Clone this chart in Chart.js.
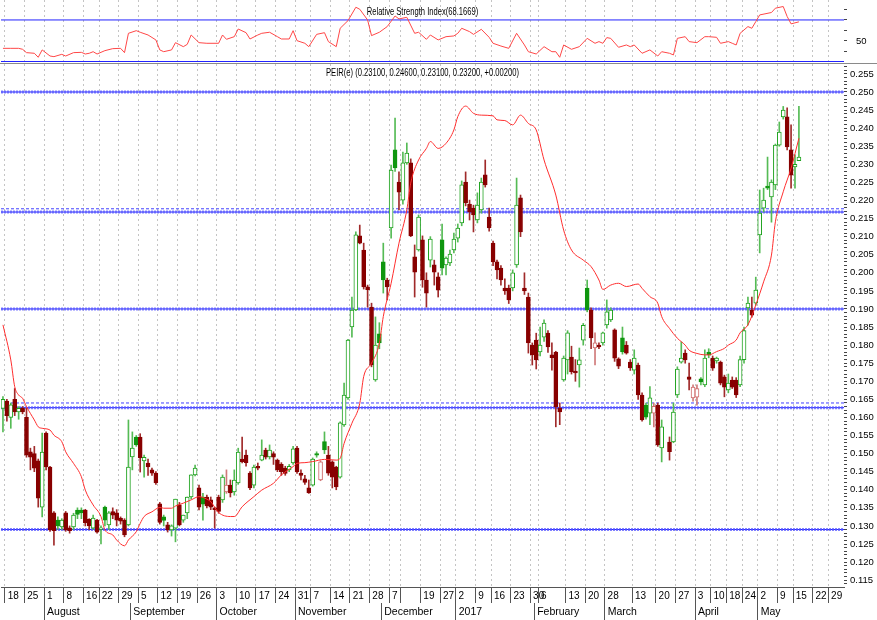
<!DOCTYPE html>
<html>
<head>
<meta charset="utf-8">
<script src="https://cdn.jsdelivr.net/npm/chart.js@4.4.1/dist/chart.umd.min.js"></script>
<style>
  html, body { margin: 0; padding: 0; background: #fff; }
  #wrap { position: relative; width: 877px; height: 620px; overflow: hidden; }
  #rsiBox { position: absolute; left: 0; top: 0; width: 877px; height: 63px; }
  #mainBox { position: absolute; left: 0; top: 63px; width: 877px; height: 556px; border-top: 1px solid #8a8a8a; }
</style>
</head>
<body>
<div id="wrap">
  <div id="rsiBox"><canvas id="rsiChart"></canvas></div>
  <div id="mainBox"><canvas id="priceChart"></canvas></div>
</div>
<script>
// bars per week, first label of each week (one bar slot per trading day)
const weekLabels = ["", "18", "25", "1", "8", "16", "22", "29", "5", "12", "19", "26", "3", "10", "17", "24",
  "31", "7", "14", "21", "28", "7", "", "19", "27", "2", "9", "16", "23", "30", "6", "13", "20", "28",
  "13", "20", "27", "3", "10", "18", "24", "2", "9", "15", "22", "29"];
const weekBars = [1, 5, 5, 5, 5, 4, 5, 5, 5, 5, 5, 5, 5, 5, 5, 5,
  4, 5, 5, 5, 5, 3, 5, 5, 4, 5, 4, 5, 5, 2, 7, 5, 5, 7,
  6, 5, 5, 4, 4, 4, 4, 5, 4, 5, 4, 4];
const monthLabels = ["", "August", "September", "October", "November", "December", "2017", "February", "March", "April", "May"];
const monthBars = [11, 22, 22, 20, 22, 19, 20, 18, 23, 16, 22];

// daily candles (null = no trade that slot)
const open = [
  .1625,.1645,.1600,.1650,.1615,.1625,.1600,.1505,.1500,.1480,
  .1352,.1557,.1463,.1336,.1316,.1297,.1336,.1295,.1297,.1344,
  .1344,.1344,.1318,.1294,.1316,.1290,.1352,.1303,.1340,.1336,
  .1322,.1316,.1303,.1491,.1546,.1546,.1480,.1474,.1455,.1446,
  .1361,.1325,.1303,.1289,.1294,.1358,.1316,.1336,.1380,.1441,
  .1405,.1380,.1380,.1372,.1350,.1380,.1372,.1394,.1413,.1394,
  .1419,.1485,.1496,.1446,.1413,.1465,.1482,.1510,.1491,.1500,
  .1482,.1470,.1460,.1455,.1474,.1515,.1446,.1430,.1405,.1413,
  .1500,.1427,.1533,.1496,.1477,.1463,.1435,.1579,.1654,.1850,
  .1897,.2102,.2063,.1961,.1905,.1704,.1831,.2030,.1980,.2124,
  .2340,.2251,.2201,.2304,.2304,.2044,.2063,.2091,.1980,.2035,
  .2022,.1989,.2091,.2022,.2027,.2063,.2096,.2138,.2251,.2190,
  .2179,.2146,.2174,.2271,.2154,.2082,.2030,.2013,.1958,.1958,
  .1958,.2022,.2207,.1958,.1933,.1800,.1814,.1781,.1822,.1833,
  .1773,.1781,.1626,.1704,.1759,.1767,.1728,.1745,.1814,.1958,
  .1897,.1792,.1800,.1806,.1856,.1870,.1842,.1762,.1820,.1800,
  .1753,.1731,.1745,.1662,.1634,.1612,.1612,.1634,.1516,null,
  .1532,.1532,.1662,.1753,.1778,.1712,.1654,.1656,.1707,.1690,
  .1781,.1764,.1756,.1753,.1712,.1676,.1703,.1703,.1690,.1760,
  .1903,.1897,.1916,.2105,.2179,.2240,.2210,.2243,.2353,.2431,
  .2431,.2340,.2293,.2310
];
const high = [
  .1658,.1650,.1640,.1680,.1630,.1630,.1625,.1515,.1520,.1485,
  .1557,.1560,.1465,.1340,.1325,.1320,.1340,.1300,.1335,.1350,
  .1350,.1346,.1320,.1330,.1318,.1300,.1355,.1340,.1350,.1345,
  .1325,.1320,.1593,.1560,.1550,.1555,.1496,.1485,.1460,.1450,
  .1365,.1330,.1310,.1303,.1374,.1365,.1330,.1380,.1441,.1468,
  .1413,.1390,.1385,.1380,.1352,.1385,.1441,.1455,.1427,.1455,
  .1515,.1546,.1510,.1450,.1468,.1474,.1538,.1515,.1524,.1505,
  .1485,.1475,.1465,.1470,.1520,.1520,.1455,.1440,.1427,.1488,
  .1505,.1480,.1560,.1520,.1480,.1465,.1588,.1695,.1816,.1933,
  .2113,.2132,.2082,.1966,.1916,.1878,.1862,.2082,.1985,.2298,
  .2428,.2279,.2334,.2359,.2315,.2077,.2160,.2102,.2000,.2100,
  .2035,.2000,.2135,.2044,.2063,.2110,.2135,.2254,.2279,.2201,
  .2187,.2221,.2262,.2312,.2179,.2088,.2035,.2020,.1983,.1966,
  .2008,.2262,.2215,.2000,.1944,.1806,.1833,.1850,.1870,.1840,
  .1806,.1783,.1640,.1770,.1840,.1797,.1760,.1792,.1860,.1980,
  .1903,.1834,.1806,.1836,.1925,.1903,.1845,.1765,.1850,.1810,
  .1760,.1787,.1750,.1668,.1640,.1685,.1640,.1640,.1593,null,
  .1546,.1640,.1740,.1809,.1787,.1750,.1690,.1690,.1710,.1787,
  .1790,.1770,.1767,.1756,.1717,.1720,.1712,.1710,.1770,.1850,
  .1933,.1933,.1988,.2229,.2234,.2320,.2257,.2356,.2417,.2460,
  .2456,.2409,.2326,.2460
];
const low = [
  .1560,.1590,.1570,.1605,.1595,.1610,.1490,.1455,.1450,.1352,
  .1325,.1455,.1285,.1247,.1290,.1290,.1285,.1280,.1290,.1320,
  .1320,.1300,.1290,.1290,.1280,.1250,.1300,.1290,.1320,.1300,
  .1305,.1270,.1300,.1455,.1520,.1449,.1435,.1440,.1440,.1415,
  .1305,.1300,.1283,.1272,.1256,.1300,.1310,.1320,.1375,.1438,
  .1344,.1316,.1350,.1345,.1294,.1335,.1365,.1390,.1380,.1385,
  .1415,.1474,.1465,.1400,.1405,.1455,.1480,.1485,.1485,.1470,
  .1450,.1440,.1440,.1450,.1470,.1445,.1427,.1415,.1390,.1410,
  .1490,.1425,.1500,.1440,.1405,.1400,.1432,.1575,.1650,.1822,
  .1895,.2080,.1955,.1905,.1740,.1700,.1790,.1944,.1925,.2096,
  .2280,.2174,.2190,.2300,.2100,.1933,.2060,.1960,.1905,.2016,
  .1966,.1933,.1994,.1994,.2020,.2055,.2085,.2130,.2185,.2146,
  .2113,.2138,.2165,.2237,.2115,.2020,.1983,.1966,.1940,.1915,
  .1950,.2015,.2100,.1940,.1778,.1745,.1734,.1770,.1810,.1780,
  .1731,.1574,.1580,.1700,.1720,.1720,.1700,.1684,.1800,.1892,
  .1790,.1745,.1790,.1800,.1847,.1865,.1755,.1735,.1775,.1775,
  .1730,.1720,.1650,.1590,.1595,.1580,.1574,.1520,.1477,null,
  .1482,.1530,.1655,.1750,.1750,.1676,.1645,.1634,.1690,.1685,
  .1765,.1730,.1750,.1690,.1657,.1668,.1680,.1655,.1685,.1750,
  .1855,.1877,.1910,.2055,.2168,.2230,.2140,.2230,.2350,.2425,
  .2340,.2234,.2234,.2310
];
const close = [
  .1650,.1605,.1635,.1615,.1625,.1615,.1496,.1490,.1460,.1377,
  .1504,.1463,.1289,.1287,.1300,.1316,.1289,.1287,.1330,.1332,
  .1336,.1308,.1300,.1322,.1283,.1295,.1316,.1336,.1330,.1316,
  .1313,.1275,.1463,.1515,.1524,.1488,.1490,.1463,.1446,.1419,
  .1310,.1315,.1289,.1300,.1374,.1303,.1330,.1380,.1441,.1460,
  .1352,.1360,.1355,.1352,.1345,.1340,.1435,.1413,.1391,.1427,
  .1504,.1478,.1475,.1405,.1463,.1460,.1496,.1490,.1510,.1490,
  .1455,.1450,.1445,.1465,.1513,.1449,.1440,.1420,.1391,.1485,
  .1496,.1477,.1510,.1446,.1435,.1408,.1585,.1662,.1814,.1897,
  .2105,.2082,.1961,.1953,.1745,.1800,.1806,.1980,.1961,.2284,
  .2290,.2223,.2304,.2331,.2102,.2002,.2154,.1980,.1944,.2093,
  .2002,.1952,.2013,.2041,.2052,.2093,.2124,.2243,.2193,.2168,
  .2160,.2187,.2251,.2243,.2124,.2030,.2008,.1980,.1950,.1925,
  .2000,.2187,.2113,.1950,.1806,.1773,.1759,.1800,.1861,.1795,
  .1765,.1629,.1615,.1764,.1834,.1726,.1723,.1759,.1855,.1897,
  .1820,.1806,.1795,.1834,.1892,.1897,.1764,.1742,.1781,.1778,
  .1737,.1764,.1662,.1593,.1601,.1654,.1631,.1524,.1574,null,
  .1505,.1615,.1734,.1764,.1759,.1705,.1684,.1680,.1698,.1764,
  .1773,.1736,.1764,.1695,.1684,.1695,.1684,.1662,.1760,.1840,
  .1916,.1883,.1952,.2165,.2201,.2234,.2251,.2353,.2389,.2450,
  .2348,.2270,.2300,.2320
];

// moving average (slot, price)
const maDays = [0,2,3,4,5,6,8,9,10,12,13,15,16,18,20,21,23,25,26,28,29,31,32,34,35,36,38,40,41,43,
  44,46,48,50,52,53,55,58,59,61,64,66,69,71,74,75,77,79,82,85,86,87,89,91,92,94,96,97,99,101,
  103,104,106,108,109,111,113,115,116,118,120,122,125,126,128,130,132,134,136,138,141,143,145,148,150,152,153,155,157,159,
  162,163,165,167,168,170,172,174,175,177,179,180,182,184,185,187,188,190,192,194,196,197,199,201,203];
const maValues = [.1856,.1759,.1685,.1662,.1653,.1630,.1593,.1574,.1570,.1565,.1551,.1533,.1505,.1473,.1436,.1399,.1358,.1326,.1289,.1275,
  .1261,.1245,.1261,.1284,.1307,.1326,.1339,.1351,.1349,.1349,.1355,.1363,.1372,.1381,.1374,.1367,.1337,.1326,.1326,.1353,
  .1381,.1399,.1418,.1441,.1464,.1473,.1475,.1478,.1484,.1482,.1487,.1528,.1584,.1639,.1713,.1750,.1805,.1879,.1971,.2082,
  .2174,.2248,.2312,.2344,.2363,.2344,.2358,.2395,.2432,.2461,.2441,.2436,.2434,.2423,.2421,.2409,.2436,.2413,.2395,.2312,
  .2215,.2118,.2063,.2035,.2017,.1980,.1954,.1966,.1971,.1962,.1969,.1957,.1934,.1916,.1879,.1846,.1819,.1800,.1786,.1777,
  .1773,.1773,.1782,.1791,.1800,.1814,.1834,.1856,.1911,.1975,.2049,.2141,.2224,.2289,.2372];

// RSI (slot, value)
const rsiDays = [0,2,4,5,6,8,9,10,12,13,15,16,18,20,21,22,23,24,26,28,
  30,31,32,34,35,37,39,40,41,43,44,46,47,48,50,52,55,56,57,59,
  60,62,63,65,66,68,70,71,73,74,75,77,78,80,82,83,85,86,88,90,
  91,93,94,96,98,100,101,103,105,106,108,109,111,113,115,116,117,119,120,122,
  124,125,127,129,131,133,134,136,138,140,141,142,143,145,147,149,151,152,153,154,
  155,157,159,160,161,163,165,167,168,170,171,172,174,175,177,179,180,182,183,185,
  186,187,188,190,191,192,193,196,197,199,200,201,203];
const rsiValues = [43.0,43.0,43.0,42.1,38.9,38.3,34.5,41.5,35.7,35.1,37.3,35.7,38.9,39.2,37.6,38.3,39.8,37.6,40.8,42.7,
  43.0,38.9,57.3,59.8,58.3,55.7,51.0,41.5,39.8,41.5,48.4,44.6,46.8,55.7,48.4,47.8,47.8,55.7,51.6,54.1,
  61.4,57.9,51.9,55.7,57.3,58.3,54.1,51.9,51.9,59.8,50.3,47.8,44.6,56.3,57.9,49.4,44.6,62.1,69.4,82.1,
  80.2,70.0,55.1,58.3,63.7,73.8,71.0,72.5,57.3,58.3,51.6,55.7,51.0,54.1,54.8,57.3,62.1,58.9,56.3,61.1,
  53.5,47.8,45.2,43.0,57.3,46.2,39.8,37.6,44.6,39.8,39.8,34.5,46.2,42.1,44.6,52.5,47.8,49.4,47.8,53.2,
  52.5,44.0,46.2,44.6,46.2,38.3,41.5,35.7,39.8,38.3,36.7,52.5,54.1,49.4,48.4,54.1,54.1,53.5,47.8,49.4,
  47.8,46.2,57.3,63.7,62.1,68.4,74.8,77.1,81.2,82.8,73.3,66.3,68.2];

const levelValues = [0.2500, 0.2168, 0.1900, 0.1627, 0.1290];
const dashedLevels = [0.2177, 0.1640];
const rsiLevels = [70, 30];

const mainTitle = "PEIR(e) (0.23100, 0.24600, 0.23100, 0.23200, +0.00200)";
const rsiTitle = "Relative Strength Index(68.1669)";

const FONT = "'Liberation Sans', Arial, sans-serif";
Chart.defaults.font.family = FONT;
Chart.defaults.font.size = 10;
Chart.defaults.color = '#000';

// slot positions of the week and month separators
const weekStarts = [];
let acc = 0;
weekBars.forEach(n => { weekStarts.push(acc); acc += n; });
const slotCount = acc;
const weekTickSlots = weekStarts.slice(1);
const weekTickLabels = weekLabels.slice(1);
const monthTickSlots = [], monthTickLabels = [];
acc = 0;
monthBars.forEach((n, i) => {
  if (monthLabels[i]) { monthTickSlots.push(acc); monthTickLabels.push(monthLabels[i]); }
  acc += n;
});

// candles as floating bars: wick = low..high, body = open..close
const wickData = [], bodyData = [], wickColors = [], bodyFill = [], bodyEdge = [];
let prevClose = null;
close.forEach((c, i) => {
  if (c === null) return;
  const o = open[i];
  const rising = prevClose === null || c >= prevClose;
  const hollow = c > o;
  wickData.push({ x: i, y: [low[i], high[i]] });
  bodyData.push({ x: i, y: [Math.min(o, c), Math.max(o, c)] });
  if (rising) {
    wickColors.push('#55bb55');
    bodyEdge.push(hollow ? '#1fa31f' : '#0f960f');
    bodyFill.push(hollow ? '#ffffff' : '#0f960f');
  } else {
    wickColors.push(hollow ? '#d07a7a' : '#a02a2a');
    bodyEdge.push(hollow ? '#cf6a6a' : '#880000');
    bodyFill.push(hollow ? '#ffffff' : '#880000');
  }
  prevClose = c;
});

const hLine = (v, style) => Object.assign({
  type: 'line',
  data: [{ x: -0.5, y: v }, { x: slotCount - 0.5, y: v }],
  pointRadius: 0,
  order: 10
}, style);

// panel caption, squeezed like the narrow font of the original
const panelTitle = {
  id: 'panelTitle',
  afterDatasetsDraw(chart, args, opts) {
    const { ctx, chartArea } = chart;
    const cx = (chartArea.left + chartArea.right) / 2;
    ctx.save();
    ctx.font = '10px ' + FONT;
    ctx.fillStyle = '#000';
    ctx.textAlign = 'center';
    ctx.textBaseline = 'middle';
    ctx.translate(cx, chartArea.top + opts.offset);
    ctx.scale(0.76, 1);
    ctx.fillText(opts.text, 0, 0);
    ctx.restore();
  }
};

const weekGrid = {
  type: 'linear',
  min: -0.5,
  max: slotCount - 0.5,
  offset: false,
  afterBuildTicks: s => { s.ticks = weekTickSlots.map(v => ({ value: v - 0.5 })); },
};

function rightAxisFit(s) {
  s.width = 33;
  s.paddingTop = 0;
  s.paddingBottom = 0;
}

// ---------- price panel ----------
const levelSets = [];
levelValues.forEach(v => {
  levelSets.push(hLine(v, { borderColor: 'rgba(90,90,255,0.75)', borderWidth: 3, borderDash: [2, 1] }));
  levelSets.push(hLine(v, { borderColor: '#2020ff', borderWidth: 1 }));
});
dashedLevels.forEach(v => {
  levelSets.push(hLine(v, { borderColor: '#4040ff', borderWidth: 1, borderDash: [3, 2] }));
});

new Chart(document.getElementById('priceChart'), {
  type: 'bar',
  data: {
    datasets: [
      ...levelSets,
      {
        type: 'line',
        data: maDays.map((d, i) => ({ x: d, y: maValues[i] })),
        borderColor: '#ff2e2e',
        borderWidth: 1,
        pointRadius: 0,
        cubicInterpolationMode: 'monotone',
        order: 1
      },
      {
        data: wickData,
        backgroundColor: wickColors,
        barThickness: 1,
        grouped: false,
        order: 3
      },
      {
        data: bodyData,
        backgroundColor: bodyFill,
        borderColor: bodyEdge,
        borderWidth: 1,
        borderSkipped: false,
        barThickness: 4,
        minBarLength: 1,
        grouped: false,
        order: 2
      }
    ]
  },
  options: {
    responsive: true,
    maintainAspectRatio: false,
    animation: false,
    layout: { padding: { left: 1, right: 0, top: 0, bottom: 0 } },
    plugins: {
      legend: { display: false },
      tooltip: { enabled: false },
      panelTitle: { text: mainTitle, offset: 9 }
    },
    scales: {
      x: Object.assign({}, weekGrid, {
        position: 'bottom',
        weight: 0,
        afterFit: s => { s.height = 16; s.paddingLeft = 0; s.paddingRight = 0; },
        ticks: {
          autoSkip: false, maxRotation: 0, minRotation: 0, align: 'start', padding: -13,
          font: { size: 10 },
          callback: (v, i) => ' ' + weekTickLabels[i]
        },
        grid: { offset: false, color: '#c4c4c4', lineWidth: 1, tickLength: 16, tickColor: '#555', tickWidth: 1 },
        border: { display: true, color: '#555', width: 1, dash: [2, 3] }
      }),
      xm: {
        axis: 'x',
        type: 'linear',
        position: 'bottom',
        weight: 1,
        min: -0.5,
        max: slotCount - 0.5,
        offset: false,
        afterBuildTicks: s => { s.ticks = monthTickSlots.map(v => ({ value: v - 0.5 })); },
        afterFit: s => { s.height = 17; s.paddingLeft = 0; s.paddingRight = 0; },
        ticks: {
          autoSkip: false, maxRotation: 0, minRotation: 0, align: 'start', padding: -14,
          font: { size: 10.5 },
          callback: (v, i) => ' ' + monthTickLabels[i]
        },
        grid: { offset: false, drawOnChartArea: false, tickLength: 17, tickColor: '#555', tickWidth: 1 },
        border: { display: false }
      },
      y: {
        type: 'linear',
        position: 'right',
        min: 0.11311,
        max: 0.25774,
        afterBuildTicks: s => {
          const t = [];
          for (let m = 114; m <= 257; m++) t.push({ value: m / 1000 });
          s.ticks = t;
        },
        afterFit: rightAxisFit,
        ticks: {
          autoSkip: false,
          padding: 3,
          font: { size: 9.5 },
          callback: v => (Math.round(v * 1000) % 5 === 0 ? v.toFixed(3) : '')
        },
        grid: { drawOnChartArea: false, tickLength: 3, tickColor: '#444' },
        border: { display: false }
      }
    }
  },
  plugins: [panelTitle]
});

// ---------- RSI panel ----------
new Chart(document.getElementById('rsiChart'), {
  type: 'line',
  data: {
    datasets: [
      ...rsiLevels.map((v, i) => hLine(v, { borderColor: '#2222ff', borderWidth: i === 0 ? 1 : 2 })),
      {
        data: rsiDays.map((d, i) => ({ x: d, y: rsiValues[i] })),
        borderColor: '#ff4747',
        borderWidth: 1,
        pointRadius: 0,
        tension: 0,
        order: 1
      }
    ]
  },
  options: {
    responsive: true,
    maintainAspectRatio: false,
    animation: false,
    layout: { padding: { left: 1, right: 0, top: 0, bottom: 1 } },
    plugins: {
      legend: { display: false },
      tooltip: { enabled: false },
      panelTitle: { text: rsiTitle, offset: 12 }
    },
    scales: {
      x: Object.assign({}, weekGrid, {
        afterFit: s => { s.height = 0; s.paddingLeft = 0; s.paddingRight = 0; },
        ticks: { display: false },
        grid: { offset: false, color: '#c4c4c4', lineWidth: 1, drawTicks: false },
        border: { display: false, dash: [2, 3] }
      }),
      y: {
        type: 'linear',
        position: 'right',
        min: 30,
        max: 89,
        afterBuildTicks: s => { s.ticks = [40, 50, 60, 70, 80].map(v => ({ value: v })); },
        afterFit: rightAxisFit,
        ticks: { autoSkip: false, padding: 9, font: { size: 9.5 }, callback: v => (v === 50 ? '50' : '') },
        grid: { drawOnChartArea: false, tickLength: 3, tickColor: '#444' },
        border: { display: false }
      }
    }
  },
  plugins: [panelTitle]
});
</script>
</body>
</html>
